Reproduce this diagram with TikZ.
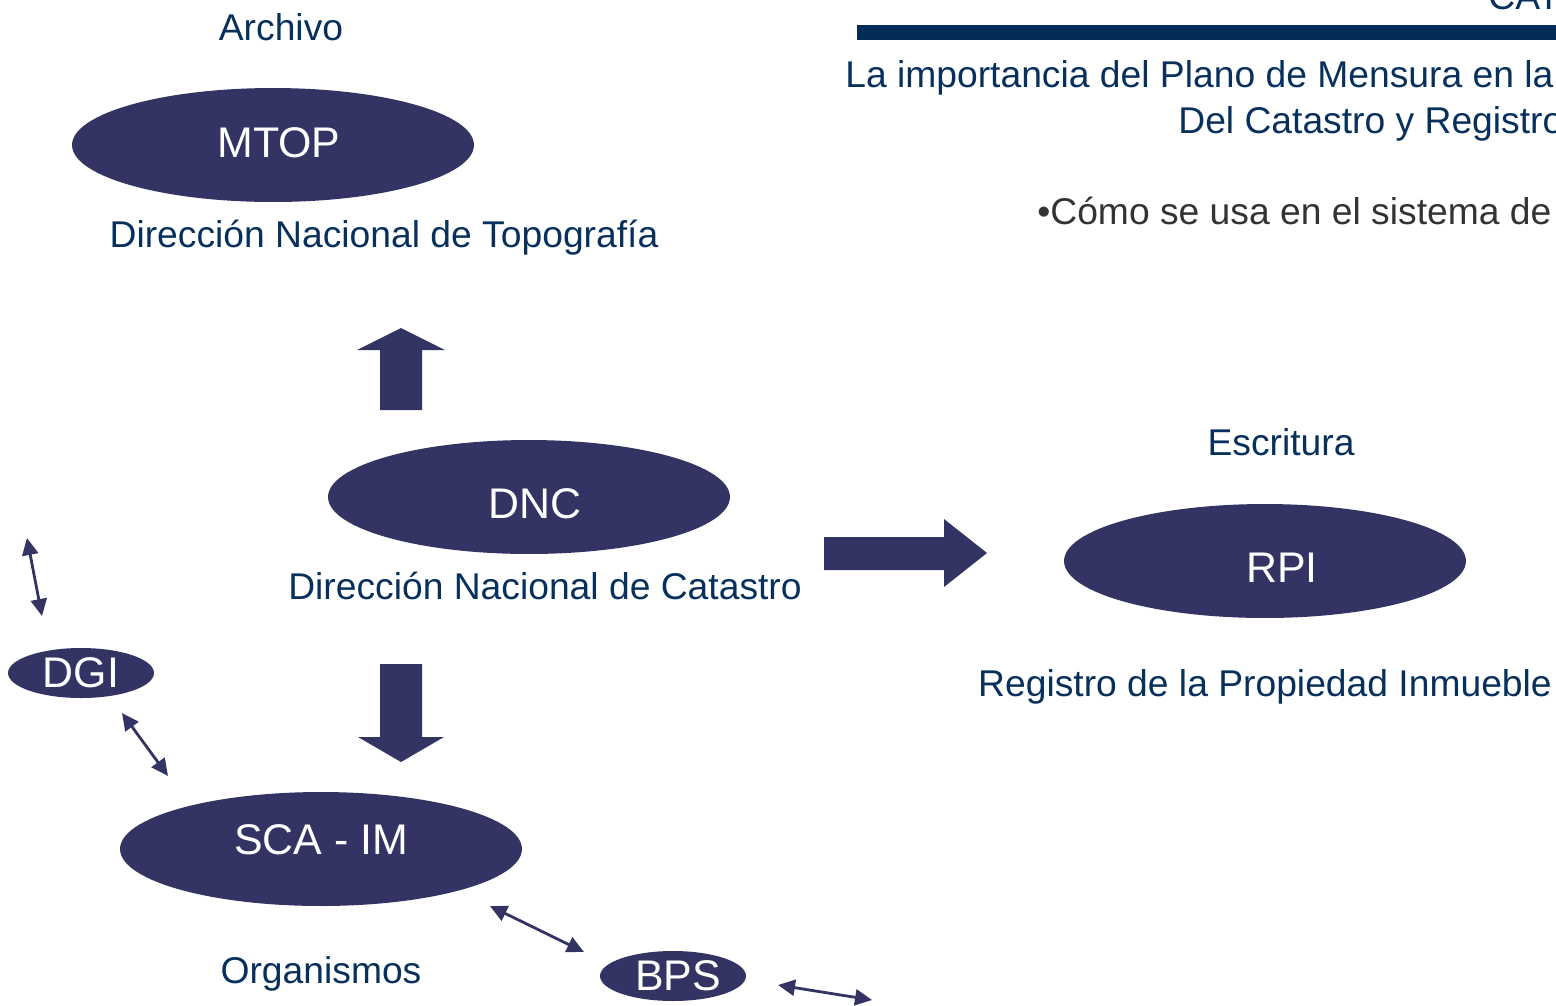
\documentclass[tikz,border=0pt]{standalone}
\usepackage{fontspec}
\setmainfont{Liberation Sans}
\usetikzlibrary{shapes.geometric,arrows.meta}
\definecolor{ovalfill}{RGB}{52,52,100}
\definecolor{navytext}{RGB}{8,48,92}
\definecolor{barblue}{RGB}{3,45,87}
\definecolor{greytext}{RGB}{51,51,51}
\begin{document}
\begin{tikzpicture}[x=0.02cm,y=-0.02cm,
    bigoval/.style={draw=none, fill=ovalfill, ellipse, inner sep=0pt, minimum width=8.04cm, minimum height=2.28cm,
        text=white, font=\fontsize{24.4}{27}\selectfont, text height=0.62cm, text depth=0pt},
    smalloval/.style={bigoval, minimum width=2.92cm, minimum height=1.0cm},
    lbl/.style={inner sep=0pt, anchor=base, text=navytext, font=\fontsize{21.2}{24}\selectfont},
    blk/.style={fill=ovalfill},
    link/.style={draw, ovalfill, line width=1.6pt, {Triangle[length=0.34cm,width=0.32cm]}-{Triangle[length=0.34cm,width=0.32cm]}}]
        \useasboundingbox (0,0) rectangle (1556,1005);
        \clip (0,0) rectangle (1556,1005);

        % header
        \fill[barblue] (857,25) rectangle (1556,40);
        \node[lbl, anchor=base west] (head) at (1488,9) {CATASTRO};
        \node[lbl, anchor=base west] (t1) at (845,87) {La importancia del Plano de Mensura en la};
        \node[lbl, anchor=base west] (t2) at (1178,133) {Del Catastro y Registro};
        \node[lbl, anchor=base west, text=greytext] (t3) at (1037,224) {•Cómo se usa en el sistema de};

        % ovals
        \node[bigoval, text depth=0.12cm] (mtop) at (273,145) {\hspace{0.24cm}MTOP};
        \node[bigoval, text height=0.86cm] (dnc) at (529,497) {\hspace{0.24cm}DNC};
        \node[bigoval, text height=0.86cm] (rpi) at (1265,561) {\hspace{0.68cm}RPI};
        \node[bigoval, text depth=0.4cm] (sca) at (321,849) {SCA - IM};
        \node[smalloval, text depth=0.06cm] (dgi) at (81,673) {DGI};
        \node[smalloval, text depth=0.06cm] (bps) at (673,976) {\hspace{0.2cm}BPS};

        % labels
        \node[lbl] (archivo) at (281,40) {Archivo};
        \node[lbl] (dnt) at (384,247) {Dirección Nacional de Topografía};
        \node[lbl] (dncl) at (545,599) {Dirección Nacional de Catastro};
        \node[lbl] (escritura) at (1281,455) {Escritura};
        \node[lbl] (rpil) at (1265,696) {Registro de la Propiedad Inmueble};
        \node[lbl] (org) at (321,983) {Organismos};

        % block arrows
        \fill[blk] (380,410) -- (380,350) -- (357,350) -- (401,328) -- (445,350) -- (422,350) -- (422,410) -- cycle;
        \fill[blk] (824,537) -- (944,537) -- (944,519) -- (987,553) -- (944,587) -- (944,570) -- (824,570) -- cycle;
        \fill[blk] (380,664) -- (380,737) -- (358,737) -- (401,762) -- (444,737) -- (422,737) -- (422,664) -- cycle;

        % small links
        \coordinate (a1) at (27,538);
        \coordinate (a2) at (42,616);
        \coordinate (b1) at (122,713);
        \coordinate (b2) at (168,776);
        \coordinate (c1) at (490,906);
        \coordinate (c2) at (584,952);
        \coordinate (d1) at (778,985);
        \coordinate (d2) at (872,1000);
        \path[link] (a1) -- (a2);
        \path[link] (b1) -- (b2);
        \path[link] (c1) -- (c2);
        \path[link] (d1) -- (d2);
    \end{tikzpicture}
\end{document}
